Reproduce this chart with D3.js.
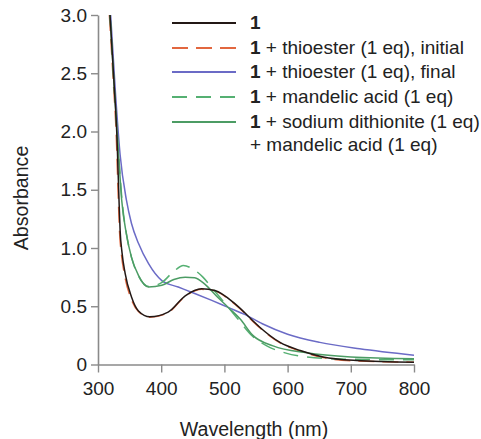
<!DOCTYPE html>
<html>
<head>
<meta charset="utf-8">
<script src="https://cdn.jsdelivr.net/npm/d3@7"></script>
<style>
  body { margin: 0; background: #fff; }
  text { font-family: "Liberation Sans", Arial, sans-serif; fill: #222; }
</style>
</head>
<body>
<svg id="chart" width="481" height="439"></svg>
<script>
// Spectra: [wavelength nm, absorbance]
const black = [[319,3.0],[325,2.45],[330,1.95],[333,1.45],[335,1.15],[338,0.96],[343,0.78],[353,0.58],[364,0.46],[382,0.41],[411,0.45],[438,0.59],[464,0.65],[485,0.635],[517,0.52],[548,0.36],[556,0.32],[588,0.19],[620,0.12],[656,0.065],[709,0.035],[800,0.02]];
const redInitial = [[318,3.0],[324,2.45],[329,1.95],[332,1.45],[334,1.15],[337,0.95],[342,0.77],[352,0.57],[364,0.455],[382,0.405],[411,0.445],[438,0.585],[464,0.645],[485,0.63],[517,0.515],[548,0.355],[556,0.315],[588,0.185],[620,0.115],[656,0.06],[709,0.03],[800,0.02]];
const blueFinal = [[320,3.0],[328,2.3],[335,1.8],[345,1.41],[353,1.21],[364,1.04],[380,0.865],[401,0.72],[427,0.665],[453,0.61],[480,0.55],[506,0.49],[532,0.43],[560,0.35],[600,0.26],[651,0.19],[714,0.135],[800,0.08]];
const greenDashed = [[319,3.0],[326,2.35],[332,1.85],[338,1.41],[345,1.12],[353,0.92],[364,0.76],[380,0.67],[400,0.70],[420,0.80],[435,0.85],[450,0.82],[466,0.75],[480,0.66],[500,0.53],[520,0.40],[545,0.24],[567,0.16],[596,0.10],[630,0.065],[700,0.045],[800,0.04]];
const greenSolid = [[319,3.0],[326,2.35],[332,1.85],[337.5,1.41],[345,1.12],[353,0.92],[364,0.765],[380,0.665],[401,0.68],[420,0.73],[438,0.75],[453,0.745],[469,0.69],[487,0.59],[506,0.49],[525,0.39],[545,0.25],[577,0.16],[630,0.10],[700,0.065],[800,0.05]];

const xTicks = [300, 400, 500, 600, 700, 800];
const yTicks = [0, 0.5, 1.0, 1.5, 2.0, 2.5, 3.0];

const series = [
  { name: "initial", data: redInitial, color: "#e2673f", dash: "16,8" },
  { name: "final", data: blueFinal, color: "#6b6bc6", dash: null },
  { name: "mandelic", data: greenDashed, color: "#55b072", dash: "15,9" },
  { name: "dithionite", data: greenSolid, color: "#4c9c64", dash: null },
  { name: "one", data: black, color: "#231815", dash: null }
];

const legendRows = [
  { color: "#231815", dash: null, rest: "" },
  { color: "#e2673f", dash: "16,8", rest: " + thioester (1 eq), initial" },
  { color: "#6b6bc6", dash: null, rest: " + thioester (1 eq), final" },
  { color: "#55b072", dash: "15,9", rest: " + mandelic acid (1 eq)" },
  { color: "#4c9c64", dash: null, rest: " + sodium dithionite (1 eq)" }
];

const svg = d3.select("#chart");

const x = d3.scaleLinear().domain([300, 800]).range([98, 414]);
const y = d3.scaleLinear().domain([0, 3]).range([364.5, 15]);

// axes
const xAxis = svg.append("g")
  .attr("transform", `translate(0,${y(0)})`)
  .call(d3.axisBottom(x).tickValues(xTicks).tickSize(8).tickPadding(4).tickSizeOuter(0));

const yAxis = svg.append("g")
  .attr("transform", `translate(${x(300)},0)`)
  .call(d3.axisLeft(y).tickValues(yTicks).tickSize(7).tickPadding(4).tickSizeOuter(0)
    .tickFormat(d => d === 0 ? "0" : d3.format(".1f")(d)));

[xAxis, yAxis].forEach(ax => {
  ax.select(".domain").attr("stroke", "#8a8a8a").attr("stroke-width", 1.6);
  ax.selectAll(".tick line").attr("stroke", "#8a8a8a").attr("stroke-width", 1.4);
  ax.selectAll(".tick text")
    .attr("font-family", "Liberation Sans, Arial, sans-serif")
    .attr("font-size", 19)
    .attr("fill", "#222");
});
xAxis.selectAll(".tick text").attr("dy", "0.95em");

// axis titles
svg.append("text")
  .attr("x", 254)
  .attr("y", 436)
  .attr("text-anchor", "middle")
  .attr("font-size", 19.6)
  .text("Wavelength (nm)");

svg.append("text")
  .attr("transform", "translate(28,198) rotate(-90)")
  .attr("text-anchor", "middle")
  .attr("font-size", 19.6)
  .text("Absorbance");

// curves
const line = d3.line()
  .x(d => x(d[0]))
  .y(d => y(d[1]))
  .curve(d3.curveMonotoneX);

svg.append("g")
  .selectAll("path")
  .data(series)
  .join("path")
  .attr("d", d => line(d.data))
  .attr("fill", "none")
  .attr("stroke", d => d.color)
  .attr("stroke-width", 1.5)
  .attr("stroke-dasharray", d => d.dash);

// legend
const legend = svg.append("g");
const rowY = [29, 54, 78, 103, 128];

legendRows.forEach((r, i) => {
  legend.append("line")
    .attr("x1", 172).attr("x2", 236)
    .attr("y1", rowY[i] - 6).attr("y2", rowY[i] - 6)
    .attr("stroke", r.color)
    .attr("stroke-width", 2)
    .attr("stroke-dasharray", r.dash);

  const t = legend.append("text")
    .attr("x", 250)
    .attr("y", rowY[i])
    .attr("font-size", 19);
  t.append("tspan").attr("font-weight", "bold").text("1");
  if (r.rest) t.append("tspan").text(r.rest);
});

legend.append("text")
  .attr("x", 250)
  .attr("y", 151)
  .attr("font-size", 19)
  .text("+ mandelic acid (1 eq)");
</script>
</body>
</html>
